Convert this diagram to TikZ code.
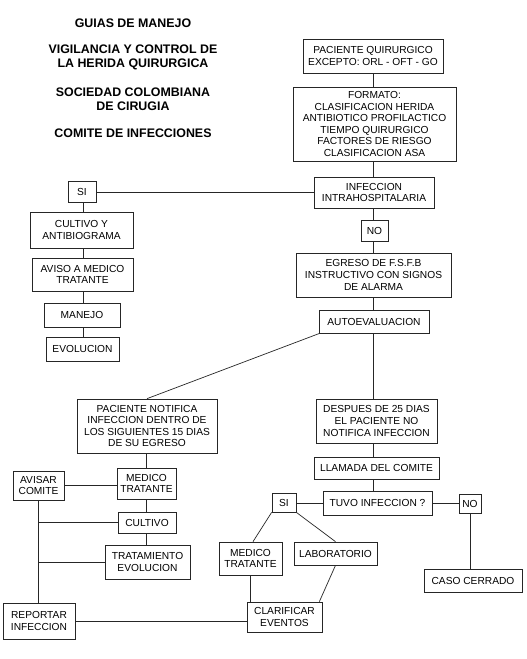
\documentclass[tikz,border=0pt]{standalone}
\usepackage{fontspec}
\setmainfont{Liberation Sans}
\begin{document}
\begin{tikzpicture}[x=1pt,y=-1pt,
  bx/.style={draw=black!85,line width=0.7pt,inner sep=0pt,align=center,
    font=\fontsize{10.2}{11.6}\selectfont},
  ttl/.style={inner sep=0pt,align=center,font=\fontsize{12.4}{14}\selectfont\bfseries},
  ln/.style={draw=black!85,line width=0.7pt}]
\useasboundingbox[fill=white] (0,0) rectangle (527,659);
% titles
\node[ttl] (t1) at (133,23) {GUIAS DE MANEJO};
\node[ttl] (t2) at (133,57) {VIGILANCIA Y CONTROL DE\\LA HERIDA QUIRURGICA};
\node[ttl] (t3) at (133,99) {SOCIEDAD COLOMBIANA\\DE CIRUGIA};
\node[ttl] (t4) at (133,133) {COMITE DE INFECCIONES};
% right column
\node[bx,minimum width=140,minimum height=34] (pq) at (373,56) {PACIENTE QUIRURGICO\\EXCEPTO: ORL - OFT - GO};
\node[bx,minimum width=163,minimum height=74] (fmt) at (374.5,124) {FORMATO:\\CLASIFICACION HERIDA\\ANTIBIOTICO PROFILACTICO\\TIEMPO QUIRURGICO\\FACTORES DE RIESGO\\CLASIFICACION ASA};
\node[bx,minimum width=120,minimum height=31] (inf) at (374,192.5) {INFECCION\\INTRAHOSPITALARIA};
\node[bx,minimum width=27,minimum height=21] (no1) at (374.5,230.5) {NO};
\node[bx,minimum width=155,minimum height=44] (egr) at (373.5,275) {EGRESO DE F.S.F.B\\INSTRUCTIVO CON SIGNOS\\DE ALARMA};
\node[bx,minimum width=110,minimum height=23] (auto) at (374,321.5) {AUTOEVALUACION};
% left column
\node[bx,minimum width=28,minimum height=21] (si1) at (82,191.5) {SI};
\node[bx,minimum width=103,minimum height=36] (cult) at (81.5,230) {CULTIVO Y\\ANTIBIOGRAMA};
\node[bx,minimum width=101,minimum height=33] (aviso) at (82.5,274.5) {AVISO A MEDICO\\TRATANTE};
\node[bx,minimum width=76,minimum height=24] (manejo) at (82,315) {MANEJO};
\node[bx,minimum width=73,minimum height=24] (evol) at (82.5,349) {EVOLUCION};
% lower left
\node[bx,minimum width=140,minimum height=54] (pn) at (147,426) {PACIENTE NOTIFICA\\INFECCION DENTRO DE\\LOS SIGUIENTES 15 DIAS\\DE SU EGRESO};
\node[bx,minimum width=59,minimum height=31] (med1) at (146.5,483.5) {MEDICO\\TRATANTE};
\node[bx,minimum width=51,minimum height=29] (avisar) at (38.5,485.5) {AVISAR\\COMITE};
\node[bx,minimum width=58,minimum height=21] (cult2) at (147,522.5) {CULTIVO};
\node[bx,minimum width=85,minimum height=34] (trat) at (147.5,562) {TRATAMIENTO\\EVOLUCION};
\node[bx,minimum width=72,minimum height=36] (rep) at (39,621) {REPORTAR\\INFECCION};
% lower right
\node[bx,minimum width=121,minimum height=44] (desp) at (376.5,421) {DESPUES DE 25 DIAS\\EL PACIENTE NO\\NOTIFICA INFECCION};
\node[bx,minimum width=125,minimum height=22] (llam) at (376.5,468) {LLAMADA DEL COMITE};
\node[bx,minimum width=109,minimum height=24] (tuvo) at (377.5,503) {TUVO INFECCION ?};
\node[bx,minimum width=24,minimum height=19] (si2) at (284,502.5) {SI};
\node[bx,minimum width=22,minimum height=19] (no2) at (470,503.5) {NO};
\node[bx,minimum width=98,minimum height=23] (caso) at (473,580.5) {CASO CERRADO};
\node[bx,minimum width=63,minimum height=33] (med2) at (250.5,558.5) {MEDICO\\TRATANTE};
\node[bx,minimum width=83,minimum height=23] (lab) at (335.5,553.5) {LABORATORIO};
\node[bx,minimum width=75,minimum height=30] (clar) at (284.5,617) {CLARIFICAR\\EVENTOS};
% connectors
\coordinate (colR) at (373,0);
\draw[ln] (pq.south -| colR) -- (fmt.north -| colR);
\draw[ln] (fmt.south -| colR) -- (inf.north -| colR);
\draw[ln] (inf.south -| colR) -- (no1.north -| colR);
\draw[ln] (no1.south -| colR) -- (egr.north -| colR);
\draw[ln] (egr.south -| colR) -- (auto.north -| colR);
\draw[ln] (auto.south -| colR) -- (desp.north -| colR);
\draw[ln] (desp.south -| colR) -- (llam.north -| colR);
\draw[ln] (llam.south -| colR) -- (tuvo.north -| colR);
\draw[ln] (inf.west) -- (si1.east |- inf.west);
\draw[ln] ([xshift=1]auto.south west) -- (pn.north);
\coordinate (colL) at (83,0);
\draw[ln] (si1.south -| colL) -- (cult.north -| colL);
\draw[ln] (cult.south -| colL) -- (aviso.north -| colL);
\draw[ln] (aviso.south -| colL) -- (manejo.north -| colL);
\draw[ln] (manejo.south -| colL) -- (evol.north -| colL);
\coordinate (colM) at (146,0);
\draw[ln] (pn.south -| colM) -- (med1.north -| colM);
\draw[ln] (med1.south -| colM) -- (cult2.north -| colM);
\draw[ln] (cult2.south -| colM) -- (trat.north -| colM);
\draw[ln] (avisar.east) -- (med1.west |- avisar.east);
\draw[ln] (avisar.south) -- (avisar.south |- rep.north);
\draw[ln] (avisar.south |- cult2.west) -- (cult2.west);
\draw[ln] (avisar.south |- trat.west) -- (trat.west);
\draw[ln] (rep.east) -- (clar.west |- rep.east);
\draw[ln] (tuvo.west) -- (si2.east |- tuvo.west);
\draw[ln] (tuvo.east) -- (no2.west |- tuvo.east);
\draw[ln] (no2.south) -- (no2.south |- caso.north);
\draw[ln] (si2.south west) -- ([xshift=2.5]med2.north);
\draw[ln] (si2.south east) -- (lab.north);
\draw[ln] (med2.south) -- (med2.south |- clar.north);
\draw[ln] (lab.south) -- ([xshift=-3]clar.north east);
\end{tikzpicture}
\end{document}
